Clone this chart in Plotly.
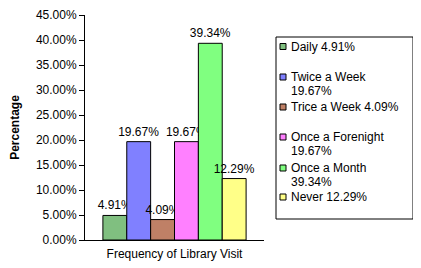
import plotly.graph_objects as go

categories = ["Daily", "Twice a Week", "Trice a Week", "Once a Forenight", "Once a Month", "Never"]
values = [4.91, 19.67, 4.09, 19.67, 39.34, 12.29]
# legend wrapping as in the reference
legend_lines = [["Daily 4.91%"], ["Twice a Week", "19.67%"], ["Trice a Week 4.09%"],
                ["Once a Forenight", "19.67%"], ["Once a Month", "39.34%"], ["Never 12.29%"]]
colors = ["#80bf80", "#8080ff", "#bf8066", "#ff80ff", "#80ff80", "#ffff88"]
tick_vals = [0, 5, 10, 15, 20, 25, 30, 35, 40, 45]

FONT = "Liberation Sans, Arial, sans-serif"
OFF = 8  # page body margin
W, H = 421 - OFF, 268 - OFF
# plot area in window pixels: x 85..264, y 15..240
L, T = 85 - OFF, 15 - OFF
R, B = W - (264 - OFF), H - (240 - OFF)
PW, PH = W - L - R, H - T - B


def px(xw):
    return (xw - OFF - L) / PW


def py(yw):
    return (H - B - (yw - OFF)) / PH


fig = go.Figure()
for name, v, c in zip(categories, values, colors):
    fig.add_trace(go.Bar(
        x=["Frequency of Library Visit"], y=[v], name=name,
        marker=dict(color=c, line=dict(color="black", width=1)),
        text=[f"{v:.2f}%"], textposition="outside", cliponaxis=False,
        textfont=dict(family=FONT, size=12, color="black"),
        showlegend=False,
    ))

# hand-drawn legend box (layout decoration)
shapes = [dict(type="rect", xref="paper", yref="paper", x0=px(276), x1=px(413), y0=py(219), y1=py(37),
               line=dict(color="black", width=1), fillcolor="white", layer="below")]
annotations = []
line_y = [[46.5], [77, 90.5], [107], [137, 150.5], [168, 182], [197]]
for lines, ys, c in zip(legend_lines, line_y, colors):
    shapes.append(dict(type="rect", xref="paper", yref="paper",
                       x0=px(280), x1=px(286), y0=py(ys[0] + 3), y1=py(ys[0] - 3),
                       line=dict(color="black", width=1), fillcolor=c))
    for txt, yy in zip(lines, ys):
        annotations.append(dict(text=txt, xref="paper", yref="paper", x=px(289), y=py(yy),
                                xanchor="left", yanchor="middle", showarrow=False,
                                font=dict(family=FONT, size=12, color="black")))

fig.update_layout(
    width=W, height=H,
    margin=dict(l=L, r=R, t=T, b=B, autoexpand=False),
    paper_bgcolor="white", plot_bgcolor="white",
    barmode="group", bargap=0.2, bargroupgap=0,
    font=dict(family=FONT, size=12, color="black"),
    showlegend=False,
    uniformtext=dict(minsize=12, mode="show"),
    shapes=shapes, annotations=annotations,
    xaxis=dict(showticklabels=False, ticks="", showline=True, linecolor="black", linewidth=1,
               automargin=False,
               title=dict(text="Frequency of Library Visit", standoff=9, font=dict(size=12))),
    yaxis=dict(range=[0, 45], tickvals=tick_vals, ticktext=[f"{t:.2f}%" for t in tick_vals],
               showline=True, linecolor="black", linewidth=1, ticks="outside", ticklen=5,
               tickcolor="black", showgrid=False, zeroline=False, automargin=False,
               tickfont=dict(size=12),
               title=dict(text="<b>Percentage</b>", standoff=15, font=dict(size=12))),
)

fig.write_html("out.html")
